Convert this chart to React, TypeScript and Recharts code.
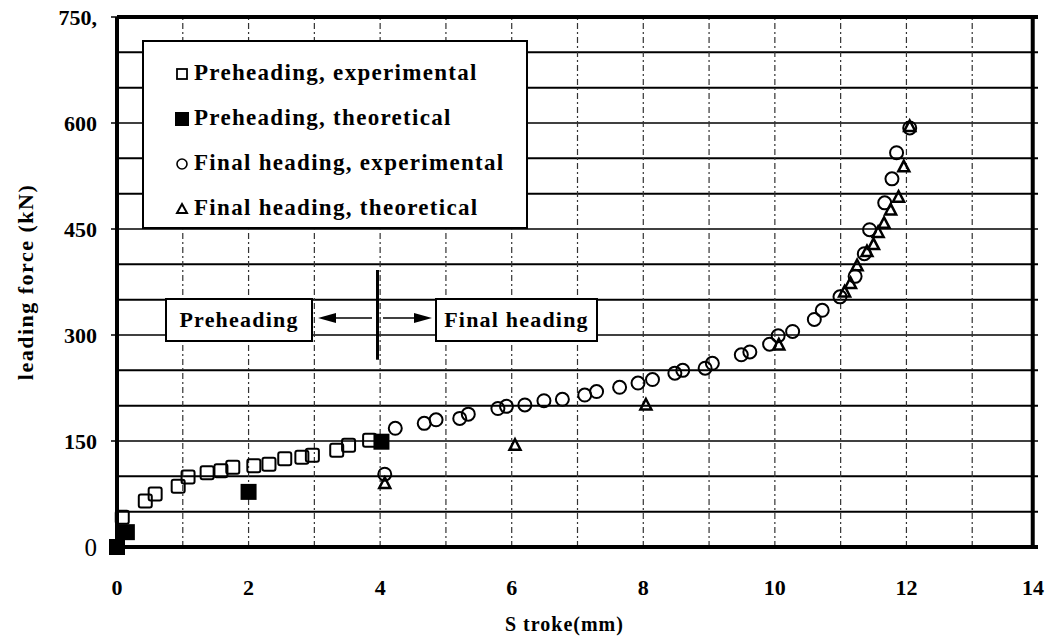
import { ScatterChart, Scatter, XAxis, YAxis, ReferenceLine } from 'recharts';

// Preheading, experimental (open squares)
const preExpX = [0.08, 0.43, 0.58, 0.93, 1.08, 1.37, 1.58, 1.76, 2.08, 2.31, 2.55, 2.81, 2.97, 3.34, 3.52, 3.84];
const preExpY = [42, 65, 75, 86, 99, 105, 108, 113, 115, 117, 125, 127, 130, 137, 144, 151];

// Preheading, theoretical (filled squares)
const preTheoX = [0, 0.15, 2.0, 4.02];
const preTheoY = [0, 21, 78, 149];

// Final heading, experimental (open circles)
const finExpX = [4.07, 4.23, 4.67, 4.85, 5.21, 5.34, 5.79, 5.92, 6.2, 6.49, 6.77, 7.11, 7.29, 7.64, 7.92, 8.14, 8.48, 8.6, 8.94, 9.05, 9.49, 9.62, 9.92, 10.05, 10.27, 10.6, 10.72, 10.99, 11.22, 11.36, 11.44, 11.67, 11.78, 11.85, 12.05];
const finExpY = [103, 168, 175, 180, 182, 188, 196, 199, 201, 207, 209, 215, 220, 226, 232, 237, 246, 250, 253, 260, 272, 276, 287, 299, 305, 322, 335, 354, 383, 415, 449, 487, 521, 558, 593];

// Final heading, theoretical (open triangles)
const finTheoX = [4.07, 6.05, 8.04, 10.06, 11.06, 11.15, 11.25, 11.4, 11.5, 11.57, 11.66, 11.76, 11.88, 11.96, 12.05];
const finTheoY = [90, 144, 201, 286, 361, 373, 398, 418, 428, 445, 458, 477, 495, 538, 595];

const xTicks = [0, 2, 4, 6, 8, 10, 12, 14];
const yTicks = [0, 150, 300, 450, 600, 750];
const gridX = [1, 2, 3, 4, 5, 6, 7, 8, 9, 10, 11, 12, 13];
const gridY = [50, 100, 150, 200, 250, 300, 350, 400, 450, 500, 550, 600, 650, 700];

const toPoints = (xs: number[], ys: number[]) => xs.map((x, i) => ({ x, y: ys[i] }));

const FONT = '"Liberation Serif", "Times New Roman", serif';

const OpenSquare = ({ cx, cy }: any) => (
  <rect x={cx - 6.5} y={cy - 6.5} width={13} height={13} rx={2} fill="none" stroke="#000" strokeWidth={2} />
);
const FilledSquare = ({ cx, cy }: any) => (
  <rect x={cx - 8} y={cy - 8} width={16} height={16} fill="#000" />
);
const OpenCircle = ({ cx, cy }: any) => (
  <circle cx={cx} cy={cy} r={6.5} fill="none" stroke="#000" strokeWidth={2} />
);
const OpenTriangle = ({ cx, cy }: any) => (
  <path d={`M${cx},${cy - 6} L${cx + 5.5},${cy + 4.5} L${cx - 5.5},${cy + 4.5} Z`} fill="none" stroke="#000" strokeWidth={2.5} />
);

const YTick = ({ x, y, payload }: any) => {
  const v = payload.value;
  return (
    <text
      x={x}
      y={y}
      dy="0.35em"
      textAnchor="end"
      fontFamily={FONT}
      fontWeight={v === 0 ? 400 : 700}
      fontSize={v === 0 ? 25 : 22}
      fill="#000"
    >
      {v === 750 ? '750,' : String(v)}
    </text>
  );
};

// the last label sits at the page edge, so it is right-aligned to stay whole
const XTick = ({ x, y, payload }: any) => {
  const last = payload.value === 14;
  return (
    <text
      x={last ? x + 6 : x}
      y={y}
      dy="0.71em"
      textAnchor={last ? 'end' : 'middle'}
      fontFamily={FONT}
      fontWeight={700}
      fontSize={22}
      fill="#000"
    >
      {payload.value}
    </text>
  );
};

const legendRows = [
  { label: 'Preheading, experimental', icon: 'sq' },
  { label: 'Preheading, theoretical', icon: 'fsq' },
  { label: 'Final heading, experimental', icon: 'circ' },
  { label: 'Final heading, theoretical', icon: 'tri' },
];

const LegendIcon = ({ kind }: { kind: string }) => (
  <svg width={16} height={16} style={{ marginRight: 4 }}>
    {kind === 'sq' && <rect x={3} y={4} width={10} height={10} fill="none" stroke="#000" strokeWidth={1.8} />}
    {kind === 'fsq' && <rect x={1} y={2} width={14} height={14} fill="#000" />}
    {kind === 'circ' && <circle cx={8} cy={9} r={5} fill="none" stroke="#000" strokeWidth={1.6} />}
    {kind === 'tri' && <path d="M8,4 L13,13 L3,13 Z" fill="none" stroke="#000" strokeWidth={2} />}
  </svg>
);

const boxText: any = {
  position: 'absolute',
  border: '2px solid #000',
  background: '#fff',
  fontFamily: FONT,
  fontWeight: 700,
  fontSize: 22,
  letterSpacing: 1.2,
  display: 'flex',
  alignItems: 'center',
  justifyContent: 'center',
  boxSizing: 'border-box',
};

export default function App() {
  return (
    <div style={{ position: 'absolute', left: 0, top: 0, width: 1047, height: 639, background: '#fff', overflow: 'hidden' }}>
      <ScatterChart width={1047} height={639} margin={{ top: 17, right: 9, bottom: 0, left: 0 }}>
        <XAxis
          type="number"
          dataKey="x"
          domain={[0, 14]}
          ticks={xTicks}
          height={92}
          axisLine={{ stroke: '#000', strokeWidth: 4 }}
          tickLine={false}
          tickSize={0}
          tickMargin={32}
          tick={<XTick />}
          interval={0}
        />
        <YAxis
          type="number"
          dataKey="y"
          domain={[0, 750]}
          ticks={yTicks}
          width={117}
          axisLine={{ stroke: '#000', strokeWidth: 4 }}
          tickLine={{ stroke: '#000', strokeWidth: 1.5 }}
          tickSize={6}
          tickMargin={14}
          tick={<YTick />}
          interval={0}
        />
        {gridY.map((v) => (
          <ReferenceLine key={`gy${v}`} y={v} stroke="#000" strokeWidth={v % 150 === 0 ? 1.5 : 2} ifOverflow="extendDomain" />
        ))}
        {gridX.map((v) => (
          <ReferenceLine key={`gx${v}`} x={v} stroke="#333" strokeWidth={1.2} strokeDasharray="6 3 2 3" />
        ))}
        <ReferenceLine y={750} stroke="#000" strokeWidth={4} />
        <ReferenceLine x={13.92} stroke="#000" strokeWidth={4} />
        <ReferenceLine
          segment={[{ x: 3.96, y: 265 }, { x: 3.96, y: 392 }]}
          stroke="#000"
          strokeWidth={3}
        />
        <Scatter name="Preheading, experimental" data={toPoints(preExpX, preExpY)} shape={(p: any) => <OpenSquare {...p} />} isAnimationActive={false} />
        <Scatter name="Final heading, experimental" data={toPoints(finExpX, finExpY)} shape={(p: any) => <OpenCircle {...p} />} isAnimationActive={false} />
        <Scatter name="Final heading, theoretical" data={toPoints(finTheoX, finTheoY)} shape={(p: any) => <OpenTriangle {...p} />} isAnimationActive={false} />
        <Scatter name="Preheading, theoretical" data={toPoints(preTheoX, preTheoY)} shape={(p: any) => <FilledSquare {...p} />} isAnimationActive={false} />
      </ScatterChart>

      {/* legend box */}
      <div
        style={{
          position: 'absolute',
          left: 142,
          top: 40,
          width: 386,
          height: 189,
          border: '2px solid #000',
          background: '#fff',
          boxSizing: 'border-box',
          paddingTop: 8,
          paddingLeft: 30,
        }}
      >
        {legendRows.map((r) => (
          <div
            key={r.label}
            style={{
              display: 'flex',
              alignItems: 'center',
              height: 45,
              fontFamily: FONT,
              fontWeight: 700,
              fontSize: 23,
              letterSpacing: 1.3,
              whiteSpace: 'nowrap',
            }}
          >
            <LegendIcon kind={r.icon} />
            <span>{r.label}</span>
          </div>
        ))}
      </div>

      {/* phase annotations */}
      <div style={{ ...boxText, left: 165, top: 298, width: 148, height: 44 }}>Preheading</div>
      <div style={{ ...boxText, left: 435, top: 298, width: 163, height: 44 }}>Final heading</div>
      <svg style={{ position: 'absolute', left: 0, top: 0 }} width={1047} height={639} pointerEvents="none">
        <line x1={332} y1={318} x2={372} y2={318} stroke="#000" strokeWidth={1.5} />
        <path d="M318,318 L336,313 L336,323 Z" fill="#000" />
        <line x1={383} y1={318} x2={418} y2={318} stroke="#000" strokeWidth={1.5} />
        <path d="M432,318 L414,313 L414,323 Z" fill="#000" />
      </svg>

      {/* axis titles */}
      <div
        style={{
          position: 'absolute',
          left: 505,
          top: 612,
          fontFamily: FONT,
          fontWeight: 700,
          fontSize: 20,
          letterSpacing: 1,
          lineHeight: '24px',
          whiteSpace: 'nowrap',
        }}
      >
        S troke(mm)
      </div>
      <div
        style={{
          position: 'absolute',
          left: 26,
          top: 282,
          transform: 'translate(-50%, -50%) rotate(-90deg)',
          fontFamily: FONT,
          fontWeight: 700,
          fontSize: 22,
          letterSpacing: 1.5,
          lineHeight: '22px',
          whiteSpace: 'nowrap',
        }}
      >
        leading force (kN)
      </div>
    </div>
  );
}
